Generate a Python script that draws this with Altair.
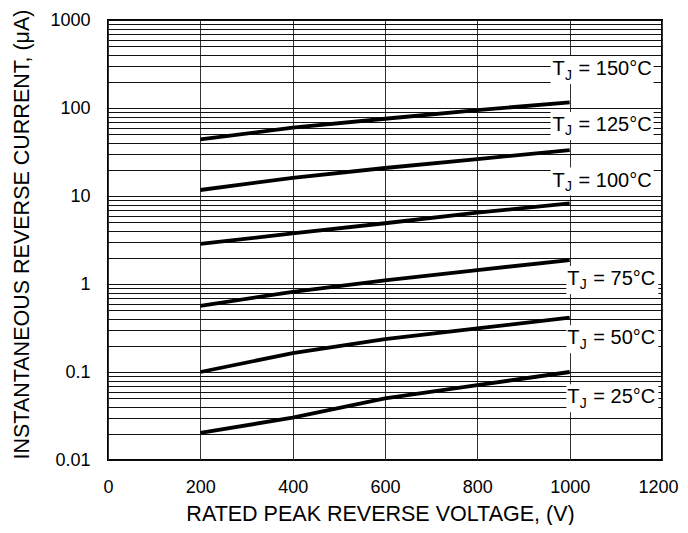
import altair as alt
import pandas as pd

# ---- data ----
voltage = [200, 400, 600, 800, 1000]
series_names = ["25", "50", "75", "100", "125", "150"]
current_25 = [0.0203, 0.0303, 0.050, 0.071, 0.100]
current_50 = [0.100, 0.164, 0.236, 0.313, 0.414]
current_75 = [0.565, 0.815, 1.10, 1.44, 1.87]
current_100 = [2.85, 3.75, 4.9, 6.46, 8.26]
current_125 = [11.7, 16.1, 20.8, 26.3, 33.3]
current_150 = [44.1, 59.7, 75.5, 94.8, 116]

x_tick_values = [0, 200, 400, 600, 800, 1000, 1200]
y_grid_values = [round(m * 10 ** e, 6) for e in range(-2, 3) for m in range(1, 10)] + [1000]

# annotation anchors (data coordinates) for the T_J labels
label_temps = ["25", "50", "75", "100", "125", "150"]
label_anchor_v = [995, 995, 995, 963, 963, 963]
label_anchor_i = [0.0441, 0.2065, 0.975, 12.8, 54.8, 237]

all_series = [current_25, current_50, current_75, current_100, current_125, current_150]
rows = []
for name, vals in zip(series_names, all_series):
    for v, i in zip(voltage, vals):
        rows.append({"series": name, "V": v, "I": i})
lines_df = pd.DataFrame(rows)

labels_df = pd.DataFrame({
    "temp": label_temps,
    "V": label_anchor_v,
    "I": label_anchor_i,
    "rest": ["= " + t + "°C" for t in label_temps],
})

FONT = "Liberation Sans"

x_axis = alt.Axis(
    values=x_tick_values, grid=True, gridColor="#333333", gridWidth=1,
    ticks=False, domain=False, labelFont=FONT, labelFontSize=18,
    labelColor="black", labelPadding=18, labelFlush=False, format="d",
    labelOffset={"expr": "datum.value == 1200 ? -4 : 0"},
    title="RATED PEAK REVERSE VOLTAGE, (V)", titleFont=FONT, titleFontSize=21.5,
    titleFontWeight="normal", titleColor="black", titleX=272, titleY=60,
    titleBaseline="alphabetic", titleAlign="center",
)
y_axis = alt.Axis(
    values=y_grid_values, grid=True, gridColor="#111111", gridWidth=1,
    ticks=False, domain=False, labelFont=FONT, labelFontSize=18,
    labelColor="black", labelPadding=18, labelFlush=False,
    labelExpr="abs(log(datum.value)/LN10 - round(log(datum.value)/LN10)) < 0.001 ? format(datum.value, '~g') : ''",
    title="INSTANTANEOUS REVERSE CURRENT, (μA)", titleFont=FONT, titleFontSize=21.5,
    titleFontWeight="normal", titleColor="black", titleAngle=270, titleX=-80, titleY=214,
    titleBaseline="alphabetic", titleAlign="center",
)

x_scale = alt.Scale(domain=[0, 1200], nice=False, zero=False)
y_scale = alt.Scale(type="log", domain=[0.01, 1000], nice=False)

def X():
    return alt.X("V:Q", scale=x_scale, axis=x_axis)

def Y():
    return alt.Y("I:Q", scale=y_scale, axis=y_axis)

lines = alt.Chart(lines_df).mark_line(color="black", strokeWidth=3.8, strokeCap="butt").encode(
    x=X(), y=Y(), detail="series:N"
)

box_wide = "M-2,-19H101V9H-2Z"
box_narrow = "M-1,-19H91V9H-1Z"
boxes = alt.Chart(labels_df).mark_point(
    filled=True, fill="white", opacity=1, strokeWidth=0, size=4
).encode(
    x=X(), y=Y(),
    shape=alt.Shape("temp:N", legend=None,
                    scale=alt.Scale(domain=label_temps,
                                    range=[box_wide if len(t) == 3 else box_narrow for t in label_temps])),
)

t_text = alt.Chart(labels_df).mark_text(
    text="T", align="left", baseline="alphabetic", font=FONT, fontSize=20, color="black"
).encode(x=X(), y=Y())
j_text = alt.Chart(labels_df).mark_text(
    text="J", align="left", baseline="alphabetic", font=FONT, fontSize=14, color="black", dx=12.5, dy=4.5
).encode(x=X(), y=Y())
rest_text = alt.Chart(labels_df).mark_text(
    align="left", baseline="alphabetic", font=FONT, fontSize=20, color="black", dx=26
).encode(x=X(), y=Y(), text="rest:N")

chart = alt.layer(lines, boxes, t_text, j_text, rest_text).properties(
    width=554, height=440,
    autosize=alt.AutoSizeParams(type="none"),
    padding={"left": 100, "top": 12, "right": 18, "bottom": 65},
    background="white",
).configure_view(stroke="black", strokeWidth=2)

chart.save("out.html", embed_options={"renderer": "svg", "actions": False})
